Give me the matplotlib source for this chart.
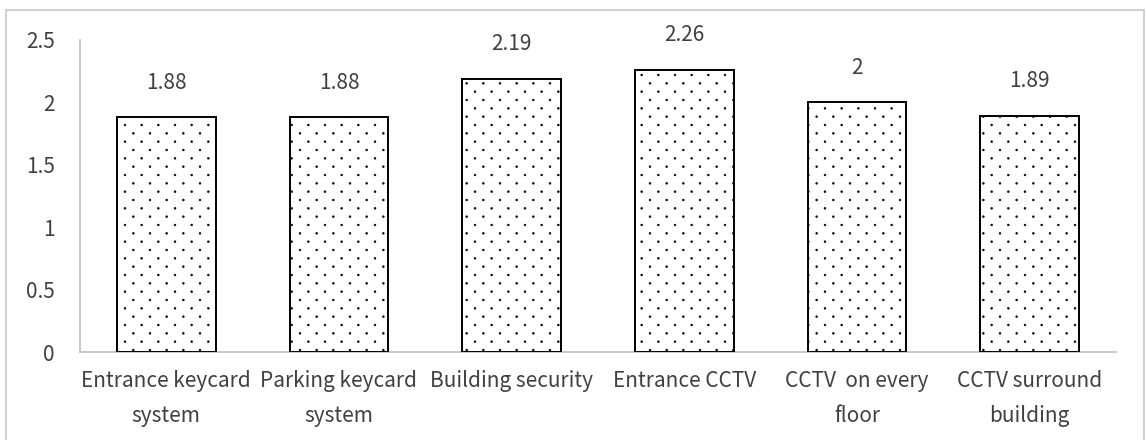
import matplotlib
matplotlib.use("Agg")
import matplotlib.pyplot as plt
import matplotlib.patches as mpatches
import matplotlib.hatch as mhatch
from matplotlib.path import Path
import numpy as np

plt.rcParams['font.family'] = ['Noto Sans CJK JP', 'DejaVu Sans']
plt.rcParams['hatch.linewidth'] = 0.4

# --- DATA ---
categories = ["Entrance keycard\nsystem", "Parking keycard\nsystem", "Building security",
              "Entrance CCTV", "CCTV  on every\nfloor", "CCTV surround\nbuilding"]
values = [1.88, 1.88, 2.19, 2.26, 2, 1.89]
value_labels = ["1.88", "1.88", "2.19", "2.26", "2", "1.89"]
yticks = [0, 0.5, 1, 1.5, 2, 2.5]
ytick_labels = ["0", "0.5", "1", "1.5", "2", "2.5"]

TEXT = '#404040'
GRID = '#bfbfbf'


# sparse staggered dot pattern (rows twice as close as columns), like Excel's 5% pattern
class StaggeredDots(mhatch.HatchPatternBase):
    def __init__(self, hatch, density):
        self.n = hatch.count('.') * density
        circ = Path.unit_circle()
        self.sv = circ.vertices
        self.sc = circ.codes
        if self.n == 0:
            self.num_vertices = 0
            return
        shapes = sum((self.n + 1) if r % 2 == 0 else self.n for r in range(2 * self.n + 1))
        self.num_vertices = shapes * len(self.sv)

    def set_vertices_and_codes(self, vertices, codes):
        n = self.n
        step = 1.0 / n
        sv = self.sv * step * 0.055
        vp, cp = [], []
        for r in range(2 * n + 1):
            if r % 2 == 0:
                cols = np.linspace(0, 1, n + 1)
            else:
                cols = np.linspace(step / 2, 1 - step / 2, n)
            for c in cols:
                vp.append(sv + [c, r * step / 2])
                cp.append(self.sc)
        np.concatenate(vp, out=vertices)
        np.concatenate(cp, out=codes)


mhatch._hatch_types = [t for t in mhatch._hatch_types
                       if t is not mhatch.SmallFilledCircles] + [StaggeredDots]

fig = plt.figure(figsize=(11.47, 4.4), dpi=100)
ax = fig.add_axes([80/1147, 88/440, 1036/1147, 312/440])

x = np.arange(len(categories))
bars = ax.bar(x, values, width=0.57, color='white', edgecolor='black',
              linewidth=1.4, hatch='.', zorder=3)

for xi, v, lab in zip(x, values, value_labels):
    ax.annotate(lab, (xi, v), xytext=(0, 25), textcoords='offset points',
                ha='center', va='center', fontsize=15, color=TEXT)

ax.set_xlim(-0.5, len(categories) - 0.5)
ax.set_ylim(0, 2.5)
ax.set_yticks(yticks)
ax.set_yticklabels(ytick_labels)
ax.set_xticks(x)
ax.set_xticklabels(categories, linespacing=1.78)
ax.tick_params(axis='both', length=0, labelsize=15, labelcolor=TEXT)
ax.tick_params(axis='y', pad=18)
ax.tick_params(axis='x', pad=13)

for s in ['top', 'right']:
    ax.spines[s].set_visible(False)
for s in ['left', 'bottom']:
    ax.spines[s].set_color(GRID)
    ax.spines[s].set_linewidth(1.2)

# outer chart border
border = mpatches.Rectangle((6/1147, -0.05), 1138/1147, 1.05 - 10/440,
                            transform=fig.transFigure, fill=False,
                            edgecolor='#c8c8c8', linewidth=1.2, clip_on=False)
fig.patches.append(border)

fig.savefig("out.png", dpi=100)
